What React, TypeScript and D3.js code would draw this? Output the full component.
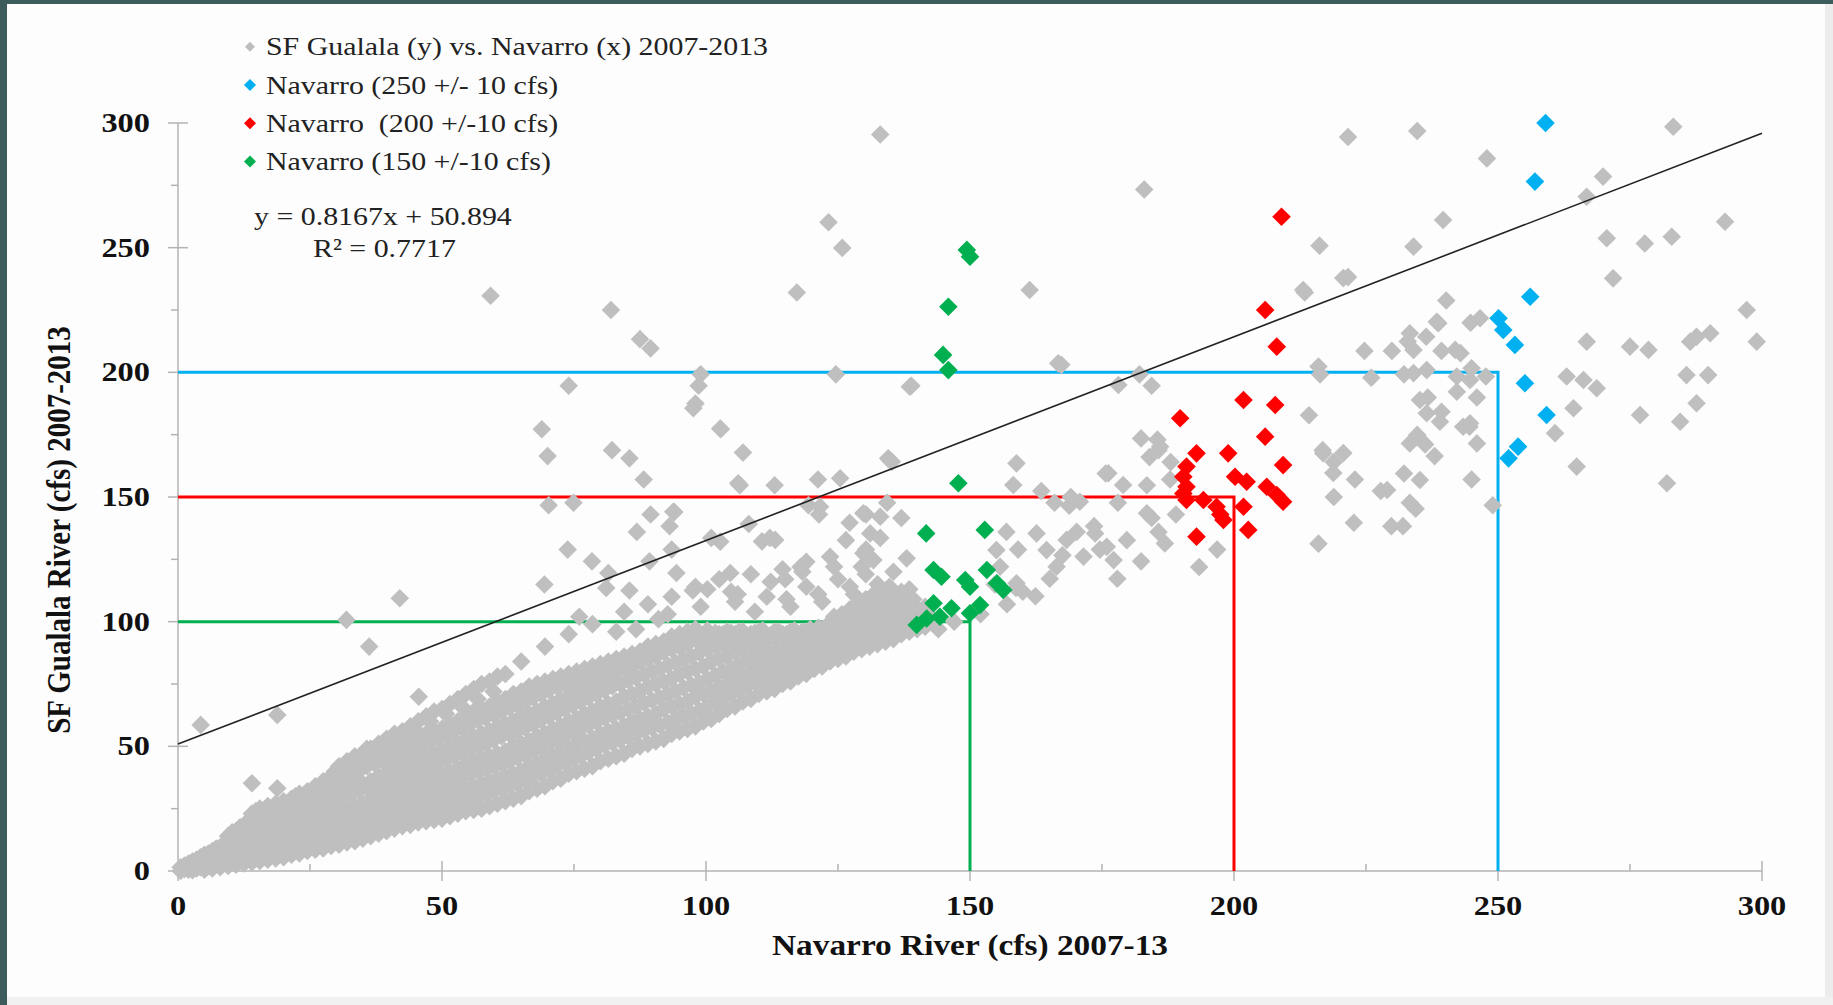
import React from 'react';
import * as d3 from 'd3';

const W = 1833;
const H = 1005;

const xTicks = [0, 50, 100, 150, 200, 250, 300];
const yTicks = [0, 50, 100, 150, 200, 250, 300];
const minorTicks = [25, 75, 125, 175, 225, 275];

// Dense low-flow band, read column by column: [x, y1, y2, ...]
const grayBandRows: number[][] = [
  [0.5, 0, 1.5], [2, 0.5, 3], [3.5, 1, 4.5], [5, 0.5, 3, 6.5], [6.5, 1, 4, 8],
  [8, 1.5, 5, 9.5], [9.5, 2, 6, 10.5, 14], [11, 2.5, 7, 11.5, 16], [12.5, 3, 7.5, 12.5, 18],
  [14, 3.5, 8.5, 13.5, 19, 23], [15.5, 4, 9, 14.5, 20, 25], [17, 4.5, 10, 15.5, 21, 26],
  [18.5, 5, 10.5, 16, 22, 27], [20, 5.5, 11, 17, 23, 28], [21.5, 6.5, 12, 18, 24, 29],
  [23, 7, 13, 19, 25, 31], [24.5, 8, 14, 20, 26, 32], [26, 8.5, 15, 21, 27, 34],
  [27.5, 9, 15.5, 22, 29, 36], [29, 10, 16.5, 23, 30, 38], [30.5, 10.5, 17, 24, 31, 39, 42],
  [32, 11.5, 18, 25, 33, 40, 44], [33.5, 12, 19, 26, 34, 41, 46], [35, 13, 20, 27, 35, 43, 47],
  [36.5, 14, 21, 29, 36, 44, 49], [38, 15, 22, 30, 38, 46, 51], [39.5, 16, 23, 31, 39, 47, 53],
  [41, 17, 24, 32, 41, 49, 55], [42.5, 18, 25, 33, 42, 50, 56], [44, 18.5, 26, 35, 43, 52, 58],
  [45.5, 19.5, 27, 36, 45, 53, 60], [47, 20, 28, 37, 46, 55, 62], [48.5, 20.5, 29, 38, 47, 56, 64],
  [50, 21, 30, 39, 48, 57, 65], [51.5, 22, 31, 40, 50, 59, 67], [53, 23, 32, 41, 51, 60, 69],
  [54.5, 24, 33, 43, 53, 62, 71], [56, 24.5, 34, 44, 54, 64, 73], [57.5, 25, 35, 45, 55, 65, 75],
  [59, 26, 36, 46, 56, 66, 76], [60.5, 27, 37, 47, 58, 68, 78], [62, 28, 38, 48, 59, 69, 79],
  [63.5, 29, 39, 50, 60, 71], [65, 30, 40, 51, 62, 72, 84], [66.5, 32, 42, 52, 63, 74],
  [68, 33, 43, 54, 64, 75], [69.5, 34, 45, 55, 66, 76, 90], [71, 36, 46, 57, 67, 77],
  [72.5, 37, 48, 58, 69, 78], [74, 39, 49, 60, 70, 79, 95], [75.5, 40, 51, 61, 72, 80],
  [77, 41, 52, 63, 74, 81], [78.5, 42, 53, 64, 75, 82, 99], [80, 44, 55, 66, 77, 83],
  [81.5, 45, 56, 67, 78, 84], [83, 46, 57, 68, 80, 85], [84.5, 47, 58, 70, 81, 86, 104],
  [86, 49, 60, 71, 82, 87], [87.5, 50, 61, 72, 84, 88], [89, 51, 62, 74, 85, 90, 107],
  [90.5, 52, 63, 75, 86, 91], [92, 53, 65, 76, 88, 92], [93.5, 55, 66, 77, 89, 94, 110],
  [95, 56, 67, 79, 90, 95], [96.5, 57, 68, 80, 91, 96], [98, 58, 70, 81, 93, 97, 114],
  [99.5, 60, 71, 82, 92], [101, 61, 72, 84, 94], [102.5, 63, 74, 85, 95, 117],
  [104, 65, 75, 86, 96], [105.5, 66, 77, 88, 95, 108], [107, 68, 78, 89, 96],
  [108.5, 69, 80, 90, 95, 119], [110, 71, 81, 91, 96], [111.5, 72, 82, 92, 94, 110],
  [113, 73, 83, 94, 96], [114.5, 75, 85, 95, 121], [116, 76, 86, 96, 106],
  [117.5, 78, 87, 95], [119, 79, 89, 96, 114, 124], [120.5, 81, 90, 95],
  [122, 82, 91, 97, 108], [123.5, 84, 93, 96, 126], [125, 85, 94, 97, 117],
  [126.5, 86, 95, 101], [128, 88, 97, 103, 111], [129.5, 89, 98, 104, 122],
  [131, 90, 99, 106], [132.5, 91, 100, 107, 115], [134, 92, 101, 108],
  [135.5, 93, 102, 110, 120], [137, 95, 103, 112], [138.5, 96, 104, 113], [140, 97, 105],
  [141.5, 98, 106], [143, 100],
];

// Staggered columns of the same band, read between the columns above
const grayBandRows2: number[][] = [
  [1.25, 0.8, 2.2], [2.75, 0.3, 1.8, 3.8], [4.25, 1.5, 3.8, 5.5], [5.75, 2, 4.5, 7], [7.25, 2.8, 6, 9],
  [8.75, 3.2, 7, 11], [10.25, 4, 8.5, 12.5, 15.5], [11.75, 4.5, 9, 14, 17.5], [13.25, 5, 10, 15, 20],
  [14.75, 5.8, 11, 16, 21, 24], [16.25, 6.5, 12, 17.5, 23], [17.75, 7.5, 12.5, 16.5, 20.5, 25],
  [19.25, 8.5, 13.5, 18.5, 24], [20.75, 9, 14.5, 20, 25.5], [22.25, 9.5, 15, 21, 26.5, 30],
  [23.75, 10.5, 16.5, 22, 28], [25.25, 11.5, 18, 24, 30], [26.75, 12.5, 19.5, 26, 32],
  [28.25, 13.5, 20, 27, 33.5], [29.75, 14, 21, 28, 35, 40], [31.25, 14.5, 21.5, 29.5, 37],
  [32.75, 15.5, 23, 31, 38, 43], [34.25, 16.5, 24, 32, 40], [35.75, 17.5, 25, 33.5, 42, 49],
  [37.25, 18.5, 26, 34.5, 43], [38.75, 19, 27, 35.5, 44, 50], [40.25, 20, 28, 36.5, 45],
  [41.75, 21, 29, 37.5, 46, 53], [43.25, 22, 30, 39, 47.5], [44.75, 22.5, 31, 40, 49, 57],
  [46.25, 23.5, 32, 41, 50.5], [47.75, 24, 33, 42.5, 52, 60], [49.25, 25, 34, 43.5, 53],
  [50.75, 26, 35, 45, 54.5, 63], [52.25, 27, 36, 46, 56], [53.75, 28, 37.5, 47.5, 57.5, 66],
  [55.25, 29, 39, 49, 59], [56.75, 30, 40, 50, 60.5, 69], [58.25, 31, 41, 51, 61.5],
  [59.75, 32, 42, 52.5, 63, 72], [61.25, 33, 43, 54, 64], [62.75, 34, 44, 55, 65.5],
  [64.25, 35, 45.5, 56, 66.5], [65.75, 36.5, 46.5, 57.5, 68], [67.25, 38, 48, 59, 69.5],
  [68.75, 39, 49.5, 60.5, 71], [70.25, 40.5, 51, 62, 72.5], [71.75, 42, 52.5, 63.5, 74],
  [73.25, 43.5, 54, 65, 75], [74.75, 45, 55.5, 66.5, 76], [76.25, 46, 57, 68, 77],
  [77.75, 47.5, 58.5, 69.5, 79], [79.25, 49, 60, 71, 80], [80.75, 50.5, 61.5, 72.5, 81],
  [82.25, 51.5, 62.5, 74, 83], [83.75, 52.5, 63.5, 75, 84], [85.25, 54, 65, 76.5, 85],
  [86.75, 55, 66, 77.5, 86, 97], [88.25, 56.5, 67.5, 79, 87], [89.75, 57.5, 68.5, 80, 88],
  [91.25, 58.5, 69.5, 81, 89.5], [92.75, 59.5, 71, 82.5, 91, 103], [94.25, 61, 72, 83.5, 92],
  [95.75, 62, 73.5, 85, 93], [97.25, 63, 74.5, 86, 94], [98.75, 64.5, 75.5, 87.5, 95.5],
  [100.25, 66, 77, 89, 96.5, 113], [101.75, 67.5, 78.5, 90, 95.5], [103.25, 69.5, 80, 91, 95],
  [104.75, 71, 81, 92, 95.5, 112], [106.25, 72.5, 83, 93.5, 96], [107.75, 74, 84, 94.5],
  [109.25, 75.5, 85.5, 95.5, 104], [110.75, 76.5, 86.5, 96.5], [112.25, 77.5, 87.5, 94.5, 116],
  [113.75, 79, 89, 96], [115.25, 80.5, 90.5, 95, 109], [116.75, 81.5, 91.5, 96.5],
  [118.25, 83, 92.5, 96, 120], [119.75, 84.5, 94, 97], [121.25, 85.5, 95, 97.5, 111],
  [122.75, 87, 96.5, 98], [124.25, 88.5, 98, 102, 122], [125.75, 90, 99, 103],
  [127.25, 91, 100.5, 105, 114], [128.75, 92.5, 102, 107], [130.25, 94, 103, 109, 119],
  [131.75, 95, 104, 111], [133.25, 96, 105, 112.5], [134.75, 97, 106, 114],
  [136.25, 98.5, 107], [137.75, 99.5, 108], [139.25, 100.5, 109], [140.75, 101.5], [142.25, 102.5],
];

// Scattered gray points [Navarro, SF Gualala]
const grayScatter: [number, number][] = [
  [4.3, 58.6], [18.8, 62.6], [14, 35.2], [18.8, 33.2], [31.9, 100.7], [36.2, 90], [42, 109.4], [45.6, 69.9],
  [59.2, 230.7], [82, 225], [87.5, 213.3], [89.5, 209.6], [99, 199.2], [98.6, 194.6], [98, 187.5], [74, 194.6],
  [68.9, 177.2], [70, 166.4], [70.2, 146.7], [74.9, 147.7], [73.8, 128.9], [102.8, 177.2], [107, 167.8],
  [106.4, 154.7], [94, 144], [82.2, 168.8], [85.5, 165.5], [88.2, 157], [117.2, 232], [123.2, 260.2],
  [125.8, 249.9], [124.6, 199.2], [138.9, 194.6], [135.2, 164.1], [161.3, 233], [167.3, 203], [183, 273.3],
  [121.2, 157], [119.4, 146.7], [110.6, 132.2], [104.6, 119.5], [93.5, 128.9], [81.1, 113.5], [133, 295.4],
  [97.6, 185.6], [102.7, 177.5], [106.1, 155.5], [93.8, 144.1], [102.7, 132.1], [113.1, 132.8],
  [121.6, 146.1], [125.4, 157.5], [134.5, 165.5], [138.6, 194.2],
  [69.4, 114.9], [78.4, 124.2], [81.5, 119.5], [85.5, 112.5], [89.3, 124.2], [94.4, 119.5], [97.5, 112.5],
  [101, 133.6], [108.1, 139.2], [113, 154.7], [86.9, 136], [93.1, 138.3], [89.5, 143], [112.1, 133.6],
  [121.4, 143], [127.2, 139.7], [130.3, 143], [134.3, 147.7], [130.3, 128.9], [133, 133.6], [137, 141.6],
  [126.5, 132.7], [117.9, 121.9], [76, 102], [83, 96], [91, 101], [99, 106], [106, 111], [115, 117],
  [129.8, 143.5], [133, 142.1], [131.1, 135.4], [129.8, 127.4], [131.7, 124.7], [138, 125.4], [155, 128.7],
  [155.7, 122], [158.8, 115.4], [162.6, 135.4], [164.5, 128.7], [168.3, 132.8], [173.7, 135.4], [175.9, 130],
  [177.2, 124.7], [171.5, 126.1], [166.4, 122], [170.8, 148.1], [168.8, 146.5], [176.2, 159.5], [179, 154.8],
  [183.5, 143.5], [186.9, 131.4], [186, 170.2], [184, 166], [188, 164], [185.5, 173], [166.7, 203.6],
  [178.1, 194.9], [134.8, 164.8], [162.4, 110.2], [158.7, 113.5], [165.1, 117.2], [167.5, 126.6],
  [170.2, 136], [174.6, 128.9], [179.7, 132.7], [182.4, 124.2], [177.9, 117.2], [184.4, 141.6], [187.9, 157],
  [166, 147.7], [156.9, 136], [163.5, 152.4], [175.7, 159.4], [178, 147.7], [173.5, 138.3], [169.1, 150],
  [182.4, 173.5], [185.7, 168.8], [183.5, 154.7], [189, 143], [185.7, 136], [196.8, 128.9], [193.4, 121.9],
  [159.1, 128.9], [154.7, 114.9], [182.1, 199.2], [184.4, 194.6], [158.8, 163.5], [158.2, 154.8],
  [141, 101], [144, 97], [147, 100], [152, 103], [157, 107], [160, 112],
  [213.4, 232], [216.2, 250.8], [221.6, 238.2], [224.7, 208.6], [216.3, 199.2], [214.2, 182.8], [216.8, 168.8],
  [216, 131.3], [218.9, 164], [222.9, 157], [218.9, 150], [227.8, 152.4], [234.4, 145.3], [232, 138.3],
  [226, 197.8], [236.2, 171.1], [239.3, 208.6], [242.9, 207.7], [229, 152.8], [222.7, 139.7], [229.8, 138.3],
  [233.3, 147.7], [232.2, 159.4], [238, 166.4], [234.7, 174.9], [239.3, 184.2], [242.2, 192.2], [236.7, 189.9],
  [232.2, 199.2], [229.9, 208.6], [232.9, 212.4], [236.4, 214.3], [238.4, 220.3], [244.8, 219.9],
  [240.2, 228.8], [245, 201.6], [247.7, 198.3], [246, 189.9], [244.6, 178.2], [213.1, 233], [220.7, 237.8],
  [216, 202.3], [216.9, 167.5], [220.7, 167.6], [218.8, 159.6], [221.6, 294.4], [249, 146.7], [245, 157],
  [234.7, 296.8], [247.9, 285.8], [283.2, 298.5], [269.9, 278.5], [266.8, 270.4], [239.6, 261.1],
  [234, 250.4], [293, 260.4], [270.6, 253.8], [277.8, 251.7], [282.9, 254.4], [271.8, 237.7], [297.1, 225],
  [299, 212.3], [266.8, 212.3], [275, 210.3], [278.5, 209], [287.6, 214.3], [290.2, 215.7], [286.4, 212.3],
  [285.7, 198.9], [289.8, 198.9], [287.6, 187.6], [284.5, 180.2], [276.9, 182.9], [264.3, 185.6],
  [263, 198.3], [266.2, 196.9], [268.7, 193.6], [260.8, 175.6], [264.9, 162.2], [282, 155.5], [235.2, 156.8],
  [246.6, 221.7], [238.7, 219.7], [233.3, 215.7], [234, 209], [241.9, 209], [234, 199.7], [236.5, 200.9],
  [242.2, 198.3], [244.7, 196.9], [235.2, 188.9], [236.5, 183.6], [239, 180.2], [243.4, 178.2], [246, 171.5],
  [233.3, 171.5], [244.7, 179.6],
];

const blueSeries: [number, number][] = [
  [259, 300], [257, 276.5], [256.1, 230.3], [250.1, 221.7], [251, 217], [253.2, 211], [255.1, 195.6],
  [259.2, 182.9], [253.8, 170.2], [252, 165.5],
];

const redSeries: [number, number][] = [
  [209, 262.4], [205.9, 225], [208.1, 210.3], [201.8, 188.9], [207.8, 186.9], [189.8, 181.6], [205.9, 174.2],
  [192.9, 167.5], [198.9, 167.5], [209.3, 162.8], [191, 162.2], [190.4, 158.1], [200.2, 158.1], [202.4, 156.1],
  [206.2, 154.1], [208.1, 150.8], [209.3, 148.1], [191, 154.1], [191, 148.8], [194.2, 148.8], [196.7, 146.1],
  [201.8, 146.1], [198, 140.8], [202.7, 136.8], [192.9, 134.1], [197.4, 143], [190.4, 151.4],
];

const greenSeries: [number, number][] = [
  [149.4, 249.1], [150, 246.4], [145.9, 226.3], [144.9, 207], [145.9, 200.9], [147.8, 155.5], [141.7, 135.4],
  [152.8, 136.8], [143.1, 120.7], [144.6, 118], [153.2, 120.7], [155.1, 115.4], [150, 114], [149.1, 116.7],
  [143.1, 107.4], [146.5, 105.4], [151.9, 106.7], [150, 103.4], [139.9, 98.7], [141.8, 101.3], [144.3, 102],
  [156.3, 112.7],
];

const trendSlope = 0.8167;
const trendIntercept = 50.894;

const refLevels = [
  { navarro: 150, gualala: 100, color: '#00b050' },
  { navarro: 200, gualala: 150, color: '#ff0000' },
  { navarro: 250, gualala: 200, color: '#00b0f0' },
];

const legendItems = [
  { label: 'SF Gualala (y) vs. Navarro (x) 2007-2013', color: '#bdbdbd' },
  { label: 'Navarro (250 +/- 10 cfs)', color: '#00b0f0' },
  { label: 'Navarro  (200 +/-10 cfs)', color: '#ff0000' },
  { label: 'Navarro (150 +/-10 cfs)', color: '#00b050' },
];

const SERIF = '"Liberation Serif", "Times New Roman", serif';

const diamond = (r: number) => `M0,${-r}L${r},0L0,${r}L${-r},0Z`;

export default function App() {
  const x = d3.scaleLinear().domain([0, 300]).range([178, 1762]);
  const y = d3.scaleLinear().domain([0, 300]).range([871, 123]);

  const grayPoints: [number, number][] = [];
  [...grayBandRows, ...grayBandRows2].forEach((row) => {
    row.slice(1).forEach((v) => grayPoints.push([row[0], v]));
  });
  grayScatter.forEach((p) => grayPoints.push(p));

  const trendLine = d3.line<number>()
    .x((d) => x(d))
    .y((d) => y(trendSlope * d + trendIntercept));

  const r = 9.3;
  const axisColor = '#b3b3b3';

  return (
    <svg width={W} height={H} style={{ position: 'absolute', left: 0, top: 0 }}>
      <rect x={0} y={0} width={W} height={H} fill="#3d5c5c" />
      <rect x={7} y={4} width={W - 7} height={H - 4} fill="#fdfdfd" />
      <rect x={W - 8} y={4} width={8} height={H - 4} fill="#ececec" />
      <rect x={7} y={H - 8} width={W - 7} height={8} fill="#f0f0f0" />

      {/* axes */}
      <line x1={x(0)} x2={x(0)} y1={y(0)} y2={y(300)} stroke={axisColor} strokeWidth={1.5} />
      <line x1={x(0)} x2={x(300)} y1={y(0)} y2={y(0)} stroke={axisColor} strokeWidth={1.5} />
      {yTicks.map((t) => (
        <line key={'yt' + t} x1={x(0) - 10} x2={x(0) + 10} y1={y(t)} y2={y(t)} stroke={axisColor} strokeWidth={1.5} />
      ))}
      {minorTicks.map((t) => (
        <line key={'ym' + t} x1={x(0) - 7} x2={x(0)} y1={y(t)} y2={y(t)} stroke={axisColor} strokeWidth={1.5} />
      ))}
      {xTicks.map((t) => (
        <line key={'xt' + t} x1={x(t)} x2={x(t)} y1={y(0) - 10} y2={y(0) + 10} stroke={axisColor} strokeWidth={1.5} />
      ))}
      {minorTicks.map((t) => (
        <line key={'xm' + t} x1={x(t)} x2={x(t)} y1={y(0) - 7} y2={y(0)} stroke={axisColor} strokeWidth={1.5} />
      ))}

      {/* reference lines */}
      {refLevels.map((l) => (
        <path
          key={'ref' + l.navarro}
          d={`M${x(0)},${y(l.gualala)}L${x(l.navarro)},${y(l.gualala)}L${x(l.navarro)},${y(0)}`}
          fill="none"
          stroke={l.color}
          strokeWidth={3}
        />
      ))}

      {/* gray series */}
      {grayPoints.map((p, i) => (
        <path key={'g' + i} d={diamond(r)} transform={`translate(${x(p[0])},${y(p[1])})`} fill="#bfbfbf" />
      ))}
      {blueSeries.map((p, i) => (
        <path key={'b' + i} d={diamond(r)} transform={`translate(${x(p[0])},${y(p[1])})`} fill="#00b0f0" />
      ))}
      {redSeries.map((p, i) => (
        <path key={'r' + i} d={diamond(r)} transform={`translate(${x(p[0])},${y(p[1])})`} fill="#ff0000" />
      ))}
      {greenSeries.map((p, i) => (
        <path key={'gr' + i} d={diamond(r)} transform={`translate(${x(p[0])},${y(p[1])})`} fill="#00b050" />
      ))}

      {/* trend line */}
      <path d={trendLine([0, 300]) || ''} fill="none" stroke="#222" strokeWidth={1.6} />

      {/* tick labels */}
      {yTicks.map((t) => (
        <g key={'yl' + t} transform={`translate(150,${y(t) + 9}) scale(1.2,1)`}>
          <text textAnchor="end" fontFamily={SERIF} fontWeight="bold" fontSize={27} fill="#111">{t}</text>
        </g>
      ))}
      {xTicks.map((t) => (
        <g key={'xl' + t} transform={`translate(${x(t)},915) scale(1.2,1)`}>
          <text textAnchor="middle" fontFamily={SERIF} fontWeight="bold" fontSize={27} fill="#111">{t}</text>
        </g>
      ))}

      {/* axis titles */}
      <g transform={`translate(${(x(0) + x(300)) / 2},955) scale(1.15,1)`}>
        <text textAnchor="middle" fontFamily={SERIF} fontWeight="bold" fontSize={29} fill="#111">Navarro River (cfs) 2007-13</text>
      </g>
      <g transform="translate(58,530) rotate(-90) scale(1,1.15)">
        <text textAnchor="middle" dy="0.35em" fontFamily={SERIF} fontWeight="bold" fontSize={29} fill="#111">SF Gualala River (cfs) 2007-2013</text>
      </g>

      {/* legend */}
      {legendItems.map((item, i) => {
        const cy = 46.8 + i * 38.2;
        return (
          <g key={'lg' + i}>
            <path d={diamond(i === 0 ? 5 : 6)} transform={`translate(250,${cy})`} fill={item.color} />
            <g transform={`translate(266,${cy + 8.5}) scale(1.15,1)`}>
              <text fontFamily={SERIF} fontSize={26} fill="#222" style={{ whiteSpace: 'pre' }}>{item.label}</text>
            </g>
          </g>
        );
      })}

      {/* equation */}
      <g transform="translate(254,225) scale(1.15,1)">
        <text fontFamily={SERIF} fontSize={26} fill="#222">y = 0.8167x + 50.894</text>
      </g>
      <g transform="translate(313,257) scale(1.15,1)">
        <text fontFamily={SERIF} fontSize={26} fill="#222">R² = 0.7717</text>
      </g>
    </svg>
  );
}
